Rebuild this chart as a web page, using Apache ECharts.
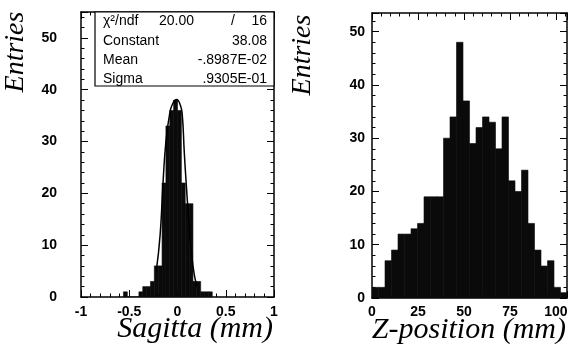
<!DOCTYPE html>
<html>
<head>
<meta charset="utf-8">
<script src="https://cdn.jsdelivr.net/npm/echarts@6/dist/echarts.min.js"></script>
<style>
  html, body { margin: 0; padding: 0; background: #fff; }
  #main { width: 571px; height: 347px; }
</style>
</head>
<body>
<div id="main"></div>
<script>
// left panel: sagitta, bins of 0.04 mm starting at -0.56
const sagBinStart = -0.56;
const sagBinWidth = 0.04;
const sagCounts = [1, 0, 0, 0, 1, 2, 2, 3, 6, 6, 22, 33, 36, 38, 36, 22, 18, 18, 3, 3, 1, 1, 1];
// gaussian fit outline
const sagFit = [[-0.22, 5], [-0.18, 12], [-0.15, 22], [-0.12, 30], [-0.08, 35.5], [-0.05, 37.3],
  [-0.01, 38.1], [0.03, 37], [0.05, 35], [0.07, 28], [0.09, 22], [0.12, 14], [0.16, 6], [0.2, 2]];

// right panel: z-position, 30 bins
const zBinStart = 0;
const zBinWidth = 106 / 30;
const zCounts = [2, 2, 7, 9, 12, 12, 13, 14, 19, 19, 19, 30, 34, 48, 37, 29, 32, 34, 33, 28,
  34, 22, 20, 24, 14, 9, 6, 7, 2, 1];

// fit statistics box
const chiText = ['\u03c7\u00b2/ndf', '20.00', '/', '16'];
const statNames = ['Constant', 'Mean', 'Sigma'];
const statValues = ['38.08', '-.8987E-02', '.9305E-01'];

const sagData = sagCounts.map((n, i) => [sagBinStart + i * sagBinWidth, sagBinStart + (i + 1) * sagBinWidth, n]);
const zData = zCounts.map((n, i) => [zBinStart + i * zBinWidth, zBinStart + (i + 1) * zBinWidth, n]);

const myChart = echarts.init(document.getElementById('main'));

function histItem(params, api) {
  const p0 = api.coord([api.value(0), 0]);
  const p1 = api.coord([api.value(1), api.value(2)]);
  return {
    type: 'rect',
    shape: { x: p0[0], y: p1[1], width: p1[0] - p0[0], height: p0[1] - p1[1] },
    style: { fill: '#0a0a0a', stroke: '#0a0a0a', lineWidth: 0.6 },
  };
}

const tickFont = { color: '#000', fontFamily: 'Liberation Sans', fontWeight: 'bold', fontSize: 14 };
const frameLine = { show: true, onZero: false, lineStyle: { color: '#000', width: 1.5 } };

function axis(opts, showLabel) {
  return Object.assign({
    type: 'value',
    axisLine: frameLine,
    axisTick: { show: true, inside: true, length: 7, lineStyle: { color: '#000', width: 1 } },
    minorTick: { show: true, splitNumber: 5, length: 3.5, lineStyle: { color: '#000', width: 1 } },
    splitLine: { show: false },
    axisLabel: Object.assign({ show: showLabel, showMaxLabel: true }, tickFont),
  }, opts);
}

const titleFont = { fontFamily: 'Liberation Serif', fontStyle: 'italic', fontSize: 30, fill: '#000' };
const boxFont = { fontFamily: 'Liberation Sans', fontSize: 14, fill: '#000' };

const graphics = [
  { type: 'text', x: 16, y: 52, rotation: Math.PI / 2,
    style: Object.assign({ text: 'Entries', align: 'center', verticalAlign: 'middle' }, titleFont, { fontSize: 28 }) },
  { type: 'text', x: 303, y: 55, rotation: Math.PI / 2,
    style: Object.assign({ text: 'Entries', align: 'center', verticalAlign: 'middle' }, titleFont, { fontSize: 28 }) },
  { type: 'text', x: 273, y: 329,
    style: Object.assign({ text: 'Sagitta (mm)', align: 'right', verticalAlign: 'middle' }, titleFont) },
  { type: 'text', x: 566, y: 330,
    style: Object.assign({ text: 'Z-position (mm)', align: 'right', verticalAlign: 'middle' }, titleFont) },
  { type: 'rect', shape: { x: 95, y: 12, width: 179, height: 74 },
    style: { fill: '#fff', stroke: '#000', lineWidth: 1.2 }, z: 1 },
  { type: 'text', x: 103, y: 21, z: 2, style: Object.assign({ text: chiText[0], verticalAlign: 'middle' }, boxFont) },
  { type: 'text', x: 194, y: 21, z: 2, style: Object.assign({ text: chiText[1], align: 'right', verticalAlign: 'middle' }, boxFont) },
  { type: 'text', x: 233, y: 21, z: 2, style: Object.assign({ text: chiText[2], align: 'center', verticalAlign: 'middle' }, boxFont) },
  { type: 'text', x: 267, y: 21, z: 2, style: Object.assign({ text: chiText[3], align: 'right', verticalAlign: 'middle' }, boxFont) },
];
statNames.forEach((name, i) => {
  const y = 41 + i * 19;
  graphics.push({ type: 'text', x: 103, y: y, z: 2, style: Object.assign({ text: name, verticalAlign: 'middle' }, boxFont) });
  graphics.push({ type: 'text', x: 267, y: y, z: 2, style: Object.assign({ text: statValues[i], align: 'right', verticalAlign: 'middle' }, boxFont) });
});

const option = {
  backgroundColor: '#fff',
  animation: false,
  grid: [
    { left: 81, right: 297, top: 12, bottom: 50 },
    { left: 372, right: 4, top: 13, bottom: 49 },
  ],
  xAxis: [
    axis({ gridIndex: 0, min: -1, max: 1, interval: 0.5, position: 'bottom' }, true),
    axis({ gridIndex: 0, min: -1, max: 1, interval: 0.5, position: 'top' }, false),
    axis({ gridIndex: 1, min: 0, max: 106, interval: 25, position: 'bottom',
      axisLabel: Object.assign({ showMaxLabel: false, margin: 7 }, tickFont) }, true),
    axis({ gridIndex: 1, min: 0, max: 106, interval: 25, position: 'top' }, false),
  ],
  yAxis: [
    axis({ gridIndex: 0, min: 0, max: 55, interval: 10, position: 'left',
      axisLabel: Object.assign({ showMaxLabel: false, margin: 24 }, tickFont) }, true),
    axis({ gridIndex: 0, min: 0, max: 55, interval: 10, position: 'right' }, false),
    axis({ gridIndex: 1, min: 0, max: 53.5, interval: 10, position: 'left',
      axisLabel: Object.assign({ showMaxLabel: false, margin: 7 }, tickFont) }, true),
    axis({ gridIndex: 1, min: 0, max: 53.5, interval: 10, position: 'right' }, false),
  ],
  graphic: graphics,
  series: [
    {
      name: 'Sagitta', type: 'custom', xAxisIndex: 0, yAxisIndex: 0,
      renderItem: histItem, encode: { x: [0, 1], y: 2 }, data: sagData, clip: true,
    },
    {
      name: 'Fit', type: 'line', xAxisIndex: 0, yAxisIndex: 0, smooth: true, showSymbol: false,
      lineStyle: { color: '#000', width: 1.5 }, data: sagFit,
    },
    {
      name: 'Z-position', type: 'custom', xAxisIndex: 2, yAxisIndex: 2,
      renderItem: histItem, encode: { x: [0, 1], y: 2 }, data: zData, clip: true,
    },
  ],
};

myChart.setOption(option);
</script>
</body>
</html>
